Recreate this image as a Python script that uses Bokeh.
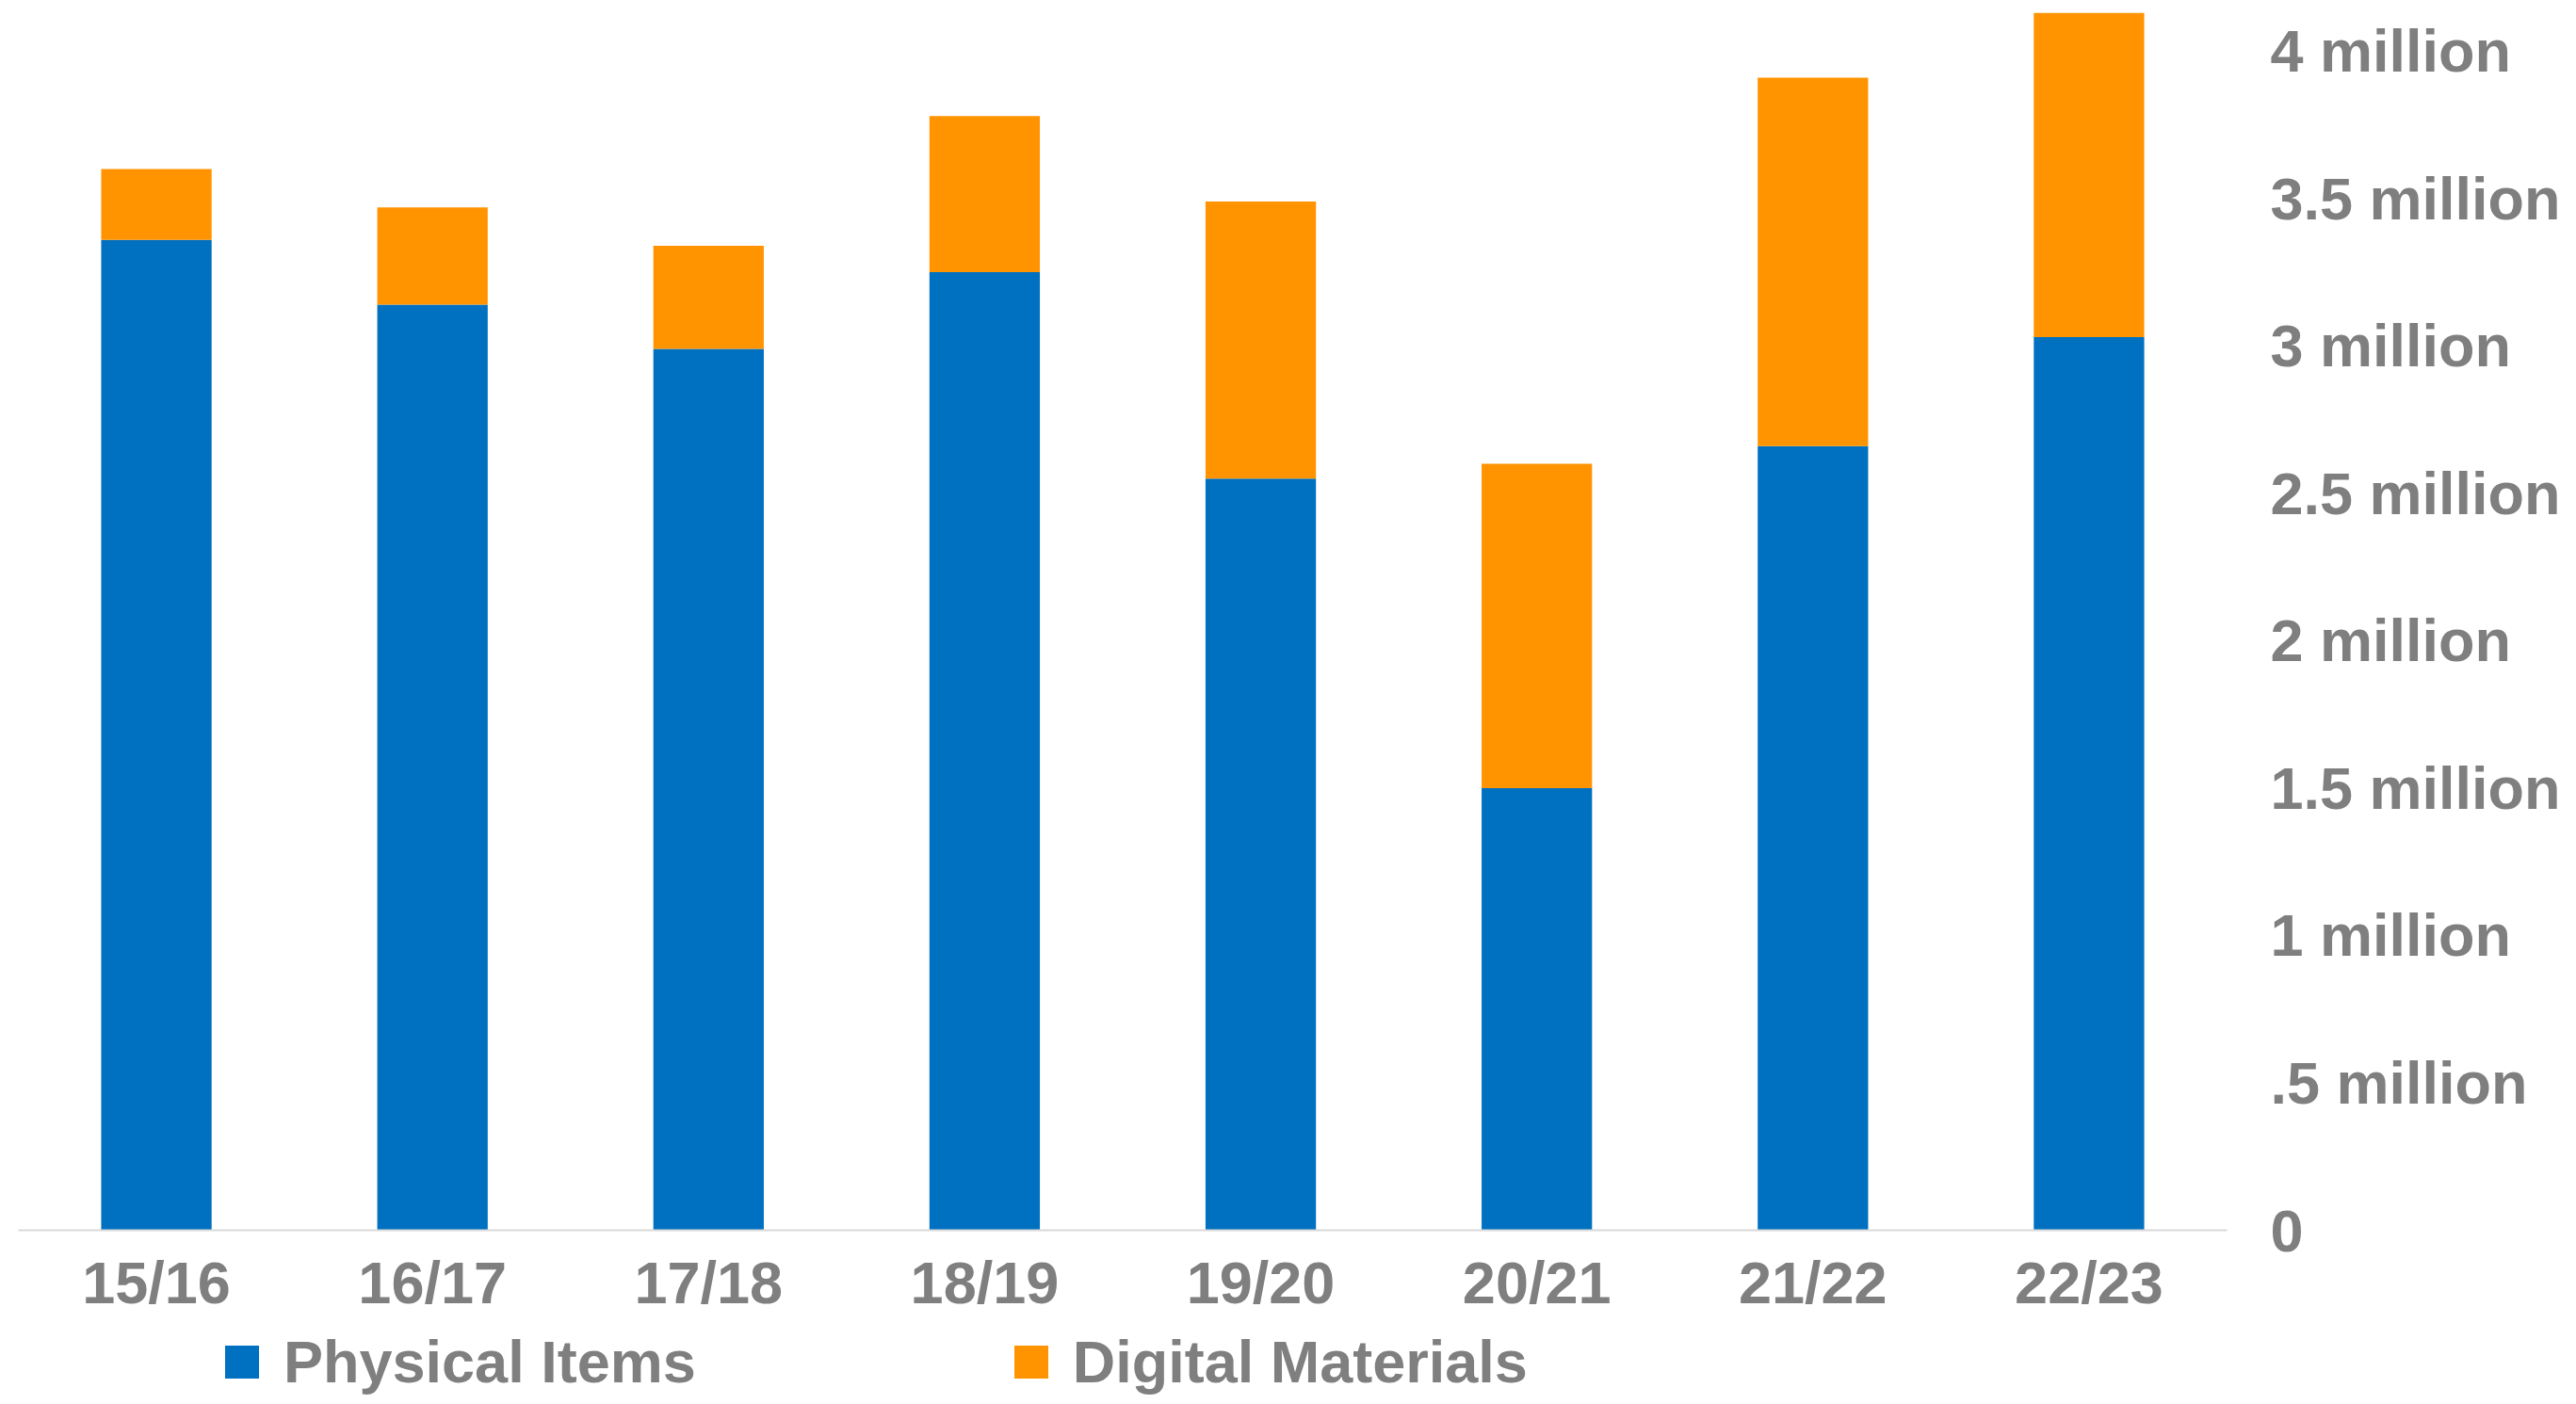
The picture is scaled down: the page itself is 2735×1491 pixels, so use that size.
from bokeh.plotting import figure
from bokeh.layouts import column
from bokeh.models import (FactorRange, Range1d, FixedTicker, CustomJSTickFormatter, Legend,
                          LegendItem, LinearAxis, CategoricalAxis)
from bokeh.embed import file_html
from bokeh.resources import INLINE

# Data (values in millions)
years = ["15/16", "16/17", "17/18", "18/19", "19/20", "20/21", "21/22", "22/23"]
physical_items = [3.36, 3.14, 2.99, 3.25, 2.55, 1.50, 2.66, 3.03]
digital_materials = [0.24, 0.33, 0.35, 0.53, 0.94, 1.10, 1.25, 1.10]
series_names = ["Physical Items", "Digital Materials"]
series_colors = ["#0070C0", "#FF9400"]
y_tick_values = [0, 0.5, 1, 1.5, 2, 2.5, 3, 3.5, 4]
y_tick_labels = ["0", ".5 million", "1 million", "1.5 million", "2 million",
                 "2.5 million", "3 million", "3.5 million", "4 million"]

FONT = "Liberation Sans"
GREY = "#7F7F7F"

p = figure(
    x_range=FactorRange(factors=years, range_padding=0),
    y_range=Range1d(0, 4.14),
    frame_width=2345, frame_height=1296,
    min_border_left=19, min_border_top=10, min_border_right=371, min_border_bottom=100,
    output_backend="svg", toolbar_location=None,
    x_axis_location=None, y_axis_location=None,
)
p.outline_line_color = None
p.xgrid.grid_line_color = None
p.ygrid.grid_line_color = None
p.background_fill_color = "white"
p.border_fill_color = "white"

data = {"years": years, "Physical Items": physical_items, "Digital Materials": digital_materials}
renderers = p.vbar_stack(series_names, x="years", width=0.4, color=series_colors,
                         line_color=None, source=data)

# x axis (below)
xa = CategoricalAxis()
xa.axis_line_color = "#D9D9D9"
xa.axis_line_width = 2
xa.major_tick_line_color = None
xa.minor_tick_line_color = None
xa.major_tick_out = 0
xa.major_tick_in = 0
xa.major_label_standoff = 20
xa.major_label_text_font = FONT
xa.major_label_text_font_style = "bold"
xa.major_label_text_font_size = "63px"
xa.major_label_text_color = GREY
p.add_layout(xa, "below")

# y axis (right)
ya = LinearAxis()
ya.ticker = FixedTicker(ticks=y_tick_values)
ya.formatter = CustomJSTickFormatter(
    args=dict(vals=y_tick_values, labels=y_tick_labels),
    code="""
    for (let i = 0; i < vals.length; i++) {
        if (Math.abs(vals[i] - tick) < 1e-9) return labels[i];
    }
    return '';
    """)
ya.axis_line_color = None
ya.major_tick_line_color = None
ya.minor_tick_line_color = None
ya.major_tick_out = 0
ya.major_tick_in = 0
ya.major_label_standoff = 46
ya.major_label_text_font = FONT
ya.major_label_text_font_style = "bold"
ya.major_label_text_font_size = "63px"
ya.major_label_text_color = GREY
p.add_layout(ya, "right")

# Legend strip below the chart (swatch renderers sit outside the visible range)
p2 = figure(
    width=2735, height=85,
    x_range=Range1d(0, 1), y_range=Range1d(0, 1),
    min_border=0, output_backend="svg", toolbar_location=None,
    x_axis_location=None, y_axis_location=None,
)
p2.outline_line_color = None
p2.xgrid.grid_line_color = None
p2.ygrid.grid_line_color = None
p2.border_fill_color = "white"
legend_renderers = [p2.vbar(x=[-5], top=[-5], bottom=[-6], width=0.1, color=c, line_color=None)
                    for c in series_colors]

legend = Legend(
    items=[LegendItem(label=series_names[i], renderers=[legend_renderers[i]]) for i in range(2)],
    orientation="horizontal",
    location=(215, 9),
    label_text_font=FONT,
    label_text_font_style="bold",
    label_text_font_size="63px",
    label_text_color=GREY,
    glyph_width=45, glyph_height=44,
    label_standoff=22,
    spacing=333,
    padding=0, margin=0,
    border_line_color=None,
    background_fill_alpha=0,
)
p2.add_layout(legend, "center")

layout = column(p, p2, spacing=0)
open("out.html", "w").write(file_html(layout, INLINE))
